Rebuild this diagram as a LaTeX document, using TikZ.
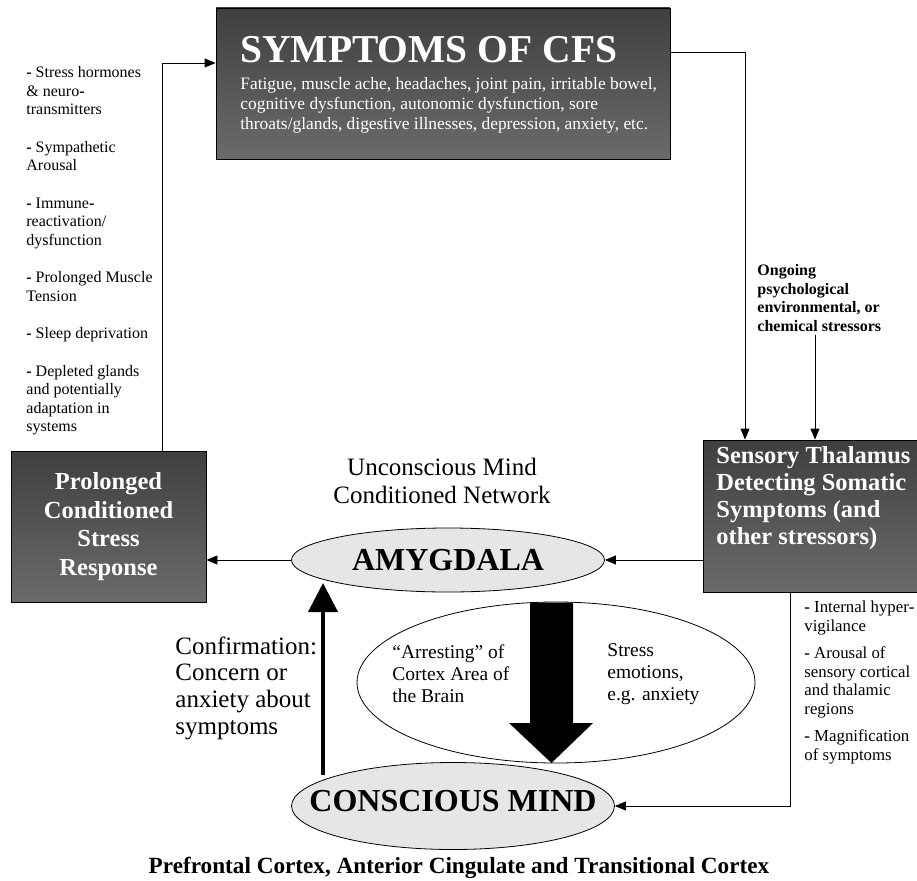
\documentclass[tikz,border=0pt]{standalone}
\usepackage{fontspec}
\setmainfont{Liberation Serif}
\usetikzlibrary{shapes}
\usetikzlibrary{arrows.meta}
\usetikzlibrary{positioning}
\definecolor{boxtop}{HTML}{3F3F3F}
\definecolor{boxbot}{HTML}{6B6B6B}
\definecolor{ovalgray}{HTML}{E6E6E6}

\begin{document}
\begin{tikzpicture}[x=1pt,y=1pt,>={Triangle[length=11pt,width=9pt]},
    line width=0.8pt,inner sep=0pt,
    darkbox/.style={draw=black,top color=boxtop,bottom color=boxbot,text=white},
    oval/.style={ellipse,draw=black,fill=ovalgray},
    note/.style={align=left,font=\fontsize{16}{18.5}\selectfont},
    bignote/.style={align=left,font=\fontsize{25}{26.8}\selectfont}]
  \useasboundingbox (0,0) rectangle (917,-880);

  \node[darkbox,minimum width=454,minimum height=151] (symptoms) at (443,-83.5) {};
  \node[text=white,anchor=base west,font=\fontsize{39.5}{40}\selectfont\bfseries] (title) at (240,-63) {SYMPTOMS OF CFS};
  \node[text=white,align=left,anchor=north west,font=\fontsize{17.4}{20}\selectfont] (symlist) at (240,-77.5)
    {Fatigue, muscle ache, headaches, joint pain, irritable bowel,\\cognitive dysfunction, autonomic dysfunction, sore\\throats/glands, digestive illnesses, depression, anxiety, etc.};

  \node[darkbox,minimum width=195,minimum height=151,align=center,font=\fontsize{24.5}{28.7}\selectfont\bfseries] (prolonged) at (108.5,-526.5)
    {Prolonged\\Conditioned\\Stress\\Response};

  \node[darkbox,minimum width=214,minimum height=152] (thalamus) at (810,-516) {};
  \node[text=white,align=left,anchor=north west,font=\fontsize{24.5}{26.8}\selectfont\bfseries] (thaltext) at (716,-446.5)
    {Sensory Thalamus\\Detecting Somatic\\Symptoms (and\\other stressors)};

  \node[ellipse,draw=black,minimum width=398,minimum height=161] (cortex) at (556,-682.5) {};
  \fill (530,-602.5) -- (573,-602.5) -- (573,-723) -- (593,-723) -- (551.5,-763) -- (509,-723) -- (530,-723) -- cycle;

  \node[oval,minimum width=313,minimum height=64,font=\fontsize{32}{34}\selectfont\bfseries] (amygdala) at (448,-560) {AMYGDALA};
  \node[oval,minimum width=323,minimum height=87] (conscious) at (453,-806) {};
  \node[font=\fontsize{32}{34}\selectfont\bfseries] (consciousname) at ([yshift=5]conscious.center) {CONSCIOUS MIND};

  \node[align=center,anchor=north,font=\fontsize{25}{28}\selectfont] (unconscious) at (442,-457.5)
    {Unconscious Mind\\Conditioned Network};
  \node[bignote,anchor=north west] (confirm) at (175,-636)
    {Confirmation:\\Concern or\\anxiety about\\symptoms};
  \node[align=left,anchor=north west,font=\fontsize{19.5}{22}\selectfont] (arresting) at (392,-644.5)
    {“Arresting” of\\Cortex Area of\\the Brain};
  \node[align=left,anchor=north west,font=\fontsize{19.5}{22}\selectfont] (emotions) at (607,-643.5)
    {Stress\\emotions,\\e.g. anxiety};

  \node[note,anchor=north west] (effects) at (26,-66)
    {\textbf{-} Stress hormones\\\& neuro\textbf{-}\\transmitters\\[19pt]
     \textbf{-} Sympathetic\\Arousal\\[19pt]
     \textbf{-} Immune\textbf{-}\\reactivation/\\dysfunction\\[19pt]
     \textbf{-} Prolonged Muscle\\Tension\\[19pt]
     \textbf{-} Sleep deprivation\\[19pt]
     \textbf{-} Depleted glands\\and potentially\\adaptation in\\systems};
  \node[align=left,anchor=north west,font=\fontsize{16}{18.7}\selectfont\bfseries] (stressors) at (757,-264)
    {Ongoing\\psychological\\environmental, or\\chemical stressors};
  \node[note,anchor=north west,font=\fontsize{16.8}{18.5}\selectfont] (vigilance) at (804,-600.5)
    {\textbf{-} Internal hyper\textbf{-}\\vigilance\\[9pt]
     \textbf{-} Arousal of\\sensory cortical\\and thalamic\\regions\\[9pt]
     \textbf{-} Magnification\\of symptoms};
  \node[anchor=base,font=\fontsize{23.2}{25}\selectfont\bfseries] (regions) at (459,-873)
    {Prefrontal Cortex, Anterior Cingulate and Transitional Cortex};

  \coordinate (stressin) at ([xshift=5]thalamus.north);
  \draw[->] ([xshift=53.5]prolonged.north) |- ([yshift=20.5]symptoms.west);
  \draw[->] ([yshift=31.5]symptoms.east) -| ([xshift=-65]thalamus.north);
  \draw[->] (stressin |- stressors.south) ++(0,-3) -- (stressin);
  \draw[->] (amygdala.east -| thalamus.west) -- (amygdala.east);
  \draw[->] (amygdala.west) -- (amygdala.west -| prolonged.east);
  \draw[->] ([xshift=-20]thalamus.south) |- (conscious.east);
  \draw[line width=4pt,-{Triangle[length=29pt,width=29pt]}] ([xshift=-130,yshift=31]conscious.center) -- ([xshift=-125,yshift=-23]amygdala.center);
\end{tikzpicture}
\end{document}
